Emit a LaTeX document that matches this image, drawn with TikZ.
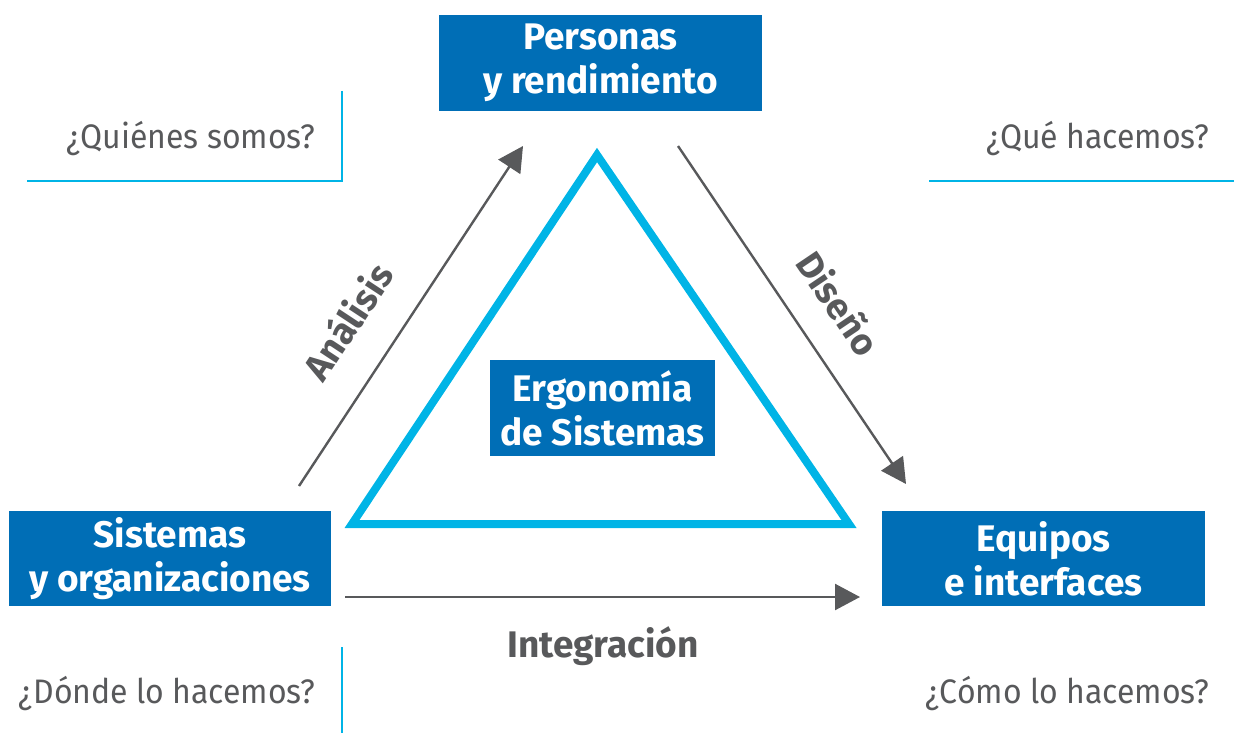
\documentclass[tikz,border=0pt]{standalone}
\usepackage{fontspec}
\setmainfont{Fira Sans}
\newfontfamily\askfont{Fira Sans}[FakeStretch=0.94]
\usetikzlibrary{arrows.meta}
\definecolor{boxblue}{RGB}{0,110,182}
\definecolor{triblue}{RGB}{0,180,230}
\definecolor{arrgray}{RGB}{88,89,91}
\begin{document}
\begin{tikzpicture}[x=0.5pt,y=-0.5pt,
    box/.style={fill=boxblue,text=white,font=\bfseries\fontsize{18.5}{22}\selectfont,
      align=center,inner sep=0pt},
    ask/.style={text=arrgray,font=\askfont\fontsize{17}{20}\selectfont,inner sep=0pt,anchor=base east},
    lbl/.style={text=arrgray,font=\bfseries\fontsize{18.5}{20}\selectfont,inner sep=0pt},
    flow/.style={arrgray,line width=1.2pt,-{Triangle[length=12.5pt,width=13pt]}},
    rule/.style={triblue,line width=0.8pt}]
  \useasboundingbox (0,0) rectangle (1234,733);
  % triangle
  \draw[triblue,line width=4pt,miter limit=20]
    (597,155) -- (352,524) -- (849,524) -- cycle;
  % boxes
  \node[box,minimum width=161.5pt,minimum height=48pt] (per) at (600.5,63) {Personas\\y rendimiento};
  \node[box,minimum width=161pt,minimum height=47.5pt] (sis) at (170,558.5) {Sistemas\\y organizaciones};
  \node[box,minimum width=161.5pt,minimum height=47.5pt] (equ) at (1043.5,558.5) {Equipos\\e interfaces};
  \node[box,minimum width=112.5pt,minimum height=48pt] (erg) at (602.5,408) {Ergonomía\\de Sistemas};
  % arrows
  \coordinate (ana-s) at (299,486);
  \coordinate (ana-e) at (523,146);
  \coordinate (dis-s) at (678,146);
  \coordinate (dis-e) at (906,484);
  \coordinate (int-s) at (345,597);
  \coordinate (int-e) at (860,597);
  \draw[flow] (ana-s) -- (ana-e);
  \draw[flow] (dis-s) -- (dis-e);
  \draw[flow] (int-s) -- (int-e);
  \node[lbl,rotate=56.6] (ana) at (347,321) {Análisis};
  \node[lbl,rotate=-56] (dis) at (839,303) {Diseño};
  \node[lbl,anchor=base] (int) at (603,657) {Integración};
  % questions
  \node[ask] (q1) at (316,148) {¿Quiénes somos?};
  \node[ask] (q2) at (1210,148) {¿Qué hacemos?};
  \node[ask] (q3) at (316,703) {¿Dónde lo hacemos?};
  \node[ask] (q4) at (1210,703) {¿Cómo lo hacemos?};
  \coordinate (r1a) at (342,91);
  \coordinate (r1b) at (342,181);
  \coordinate (r1c) at (27,181);
  \coordinate (r2a) at (929,181);
  \coordinate (r2b) at (1234,181);
  \coordinate (r3a) at (342,647);
  \coordinate (r3b) at (342,733);
  \draw[rule] (r1a) -- (r1b) -- (r1c);
  \draw[rule] (r2a) -- (r2b);
  \draw[rule] (r3a) -- (r3b);
\end{tikzpicture}
\end{document}
